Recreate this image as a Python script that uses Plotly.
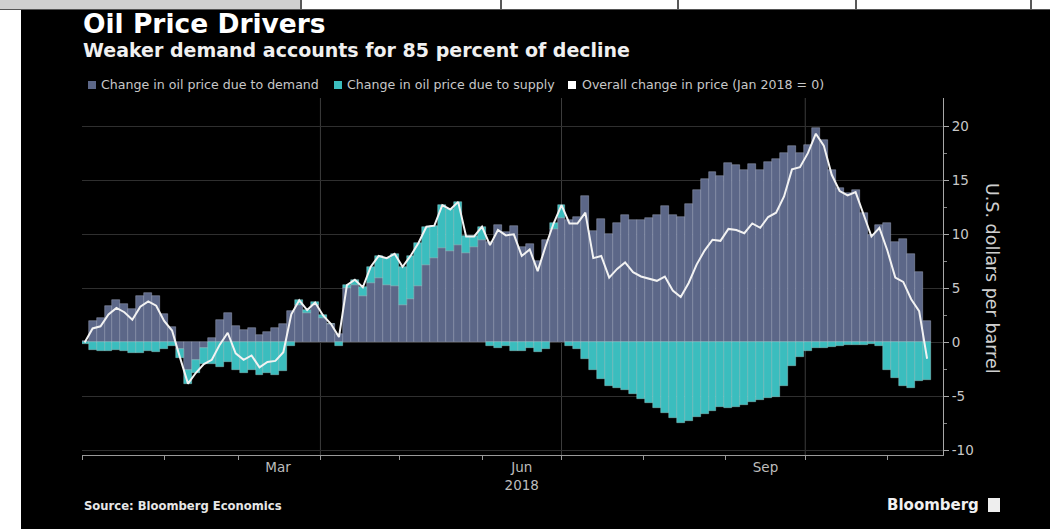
import pandas as pd
import plotly.graph_objects as go

# ---- data (US$ per barrel, change since Jan 2018), sampled every 3 days ----
dates = pd.date_range("2018-01-02", periods=107, freq="3D")

demand = [0.1, 2.0, 2.3, 3.4, 3.9, 3.6, 3.1, 4.3, 4.6, 4.3,
          2.6, 1.4, -0.6, -2.5, -1.6, -0.5, 0.4, 2.1, 2.7, 1.5,
          1.2, 1.3, 0.7, 1.0, 1.3, 1.7, 2.9, 3.5, 2.7, 3.5,
          2.3, 1.7, 0.8, 5.0, 5.3, 4.3, 5.5, 6.0, 5.3, 5.2,
          3.5, 4.0, 5.2, 7.2, 7.8, 8.7, 8.5, 9.0, 8.3, 8.8,
          9.5, 9.3, 10.9, 10.2, 10.8, 8.8, 9.1, 7.5, 9.5, 10.5,
          11.5, 11.3, 11.6, 13.5, 10.3, 11.4, 10.0, 11.0, 11.8, 11.3,
          11.3, 11.5, 11.8, 12.6, 11.8, 11.6, 12.8, 14.1, 15.1, 15.8,
          15.4, 16.6, 16.4, 15.9, 16.5, 15.9, 16.7, 17.0, 17.5, 18.2,
          17.5, 18.3, 19.8, 18.7, 15.9, 14.3, 13.8, 14.1, 12.0, 9.9,
          10.9, 11.0, 9.3, 9.6, 8.2, 6.5, 2.0]

supply = [-0.1, -0.7, -0.8, -0.8, -0.7, -0.8, -1.0, -1.0, -0.8, -0.9,
          -0.6, -0.3, -0.8, -1.3, -1.2, -1.5, -2.0, -2.3, -1.8, -2.5,
          -2.8, -2.5, -3.0, -2.8, -3.0, -2.6, -0.3, 0.4, 0.3, 0.2,
          0.2, 0.0, -0.3, 0.3, 0.5, 0.8, 1.5, 2.0, 2.5, 3.0,
          3.5, 4.0, 4.0, 3.5, 3.0, 4.0, 3.8, 4.0, 1.5, 1.0,
          1.2, -0.3, -0.5, -0.3, -0.8, -0.8, -0.5, -0.9, -0.6, 0.5,
          1.2, -0.3, -0.6, -1.5, -2.5, -3.4, -4.0, -4.2, -4.4, -4.8,
          -5.2, -5.6, -6.1, -6.5, -7.0, -7.4, -7.3, -6.9, -6.6, -6.3,
          -6.0, -6.1, -6.0, -5.8, -5.5, -5.3, -5.1, -5.0, -4.0, -2.2,
          -1.3, -0.8, -0.5, -0.5, -0.4, -0.3, -0.2, -0.2, -0.2, -0.1,
          -0.3, -2.5, -3.3, -4.0, -4.2, -3.6, -3.5]

overall = [round(d + s, 2) for d, s in zip(demand, supply)]

y_ticks = [-10, -5, 0, 5, 10, 15, 20]
y_ticktext = ["-10", "-5", "0", "5", "10", "15", "20"]
x_label_dates = ["2018-03-16", "2018-06-16", "2018-09-16"]
x_label_text = ["Mar", "Jun<br>2018", "Sep"]
month_starts = pd.date_range("2018-01-01", "2018-11-01", freq="MS")
quarter_grid = ["2018-04-01", "2018-07-01", "2018-10-01"]

series_names = ["Change in oil price due to demand",
                "Change in oil price due to supply",
                "Overall change in price (Jan 2018 = 0)"]

# ---- styling ----
DEMAND_C = "#5c6788"
SUPPLY_C = "#3bbdbe"
LINE_C = "#f2f2f2"
FONT = "DejaVu Sans, Verdana, sans-serif"

W, H = 1050, 529
L_M, R_M, T_M, B_M = 82, 107, 98, 74
PW, PH = W - L_M - R_M, H - T_M - B_M


def px(x):
    return (x - L_M) / PW


def py(y):
    return (H - B_M - y) / PH


bar_w = 3 * 24 * 3600 * 1000

fig = go.Figure()
fig.add_trace(go.Bar(x=dates, y=demand, name=series_names[0], width=bar_w,
                     marker=dict(color=DEMAND_C,
                                 line=dict(color="rgba(195,205,230,0.6)", width=0.6))))
fig.add_trace(go.Bar(x=dates, y=supply, name=series_names[1], width=bar_w,
                     marker=dict(color=SUPPLY_C,
                                 line=dict(color="rgba(195,240,240,0.55)", width=0.6))))
fig.add_trace(go.Scatter(x=dates, y=overall, name=series_names[2], mode="lines",
                         line=dict(color=LINE_C, width=2)))

shapes = []
# vertical quarter gridlines
for d in quarter_grid:
    shapes.append(dict(type="line", xref="x", yref="paper", x0=d, x1=d, y0=0, y1=1,
                       line=dict(color="#3c3c3c", width=1), layer="below"))
# legend squares
legend_sq = [(88, DEMAND_C), (334, SUPPLY_C), (568, "#ffffff")]
for x0, c in legend_sq:
    shapes.append(dict(type="rect", xref="paper", yref="paper",
                       x0=px(x0), x1=px(x0 + 8), y0=py(89), y1=py(81),
                       fillcolor=c, line=dict(width=0)))
# page frame: white left margin and top strip
shapes.append(dict(type="rect", xref="paper", yref="paper", x0=px(0), x1=px(21),
                   y0=py(H), y1=py(0), fillcolor="white", line=dict(width=0), layer="above"))
shapes.append(dict(type="rect", xref="paper", yref="paper", x0=px(0), x1=px(W),
                   y0=py(10), y1=py(0), fillcolor="white", line=dict(width=0), layer="above"))
shapes.append(dict(type="rect", xref="paper", yref="paper", x0=px(0), x1=px(300),
                   y0=py(9), y1=py(0), fillcolor="#cfcfcf", line=dict(width=0), layer="above"))
for xv in [301, 501, 678, 856, 1031]:
    shapes.append(dict(type="line", xref="paper", yref="paper", x0=px(xv), x1=px(xv),
                       y0=py(10), y1=py(0), line=dict(color="#222", width=1.5), layer="above"))
shapes.append(dict(type="line", xref="paper", yref="paper", x0=px(0), x1=px(W),
                   y0=py(9.5), y1=py(9.5), line=dict(color="#555", width=1), layer="above"))
# Bloomberg logo square
shapes.append(dict(type="rect", xref="paper", yref="paper", x0=px(988), x1=px(1000),
                   y0=py(512), y1=py(498), fillcolor="#eeeeee", line=dict(width=0)))

annotations = [
    dict(text="<b>Oil Price Drivers</b>", x=px(81), y=py(23), xref="paper", yref="paper",
         xanchor="left", yanchor="middle", showarrow=False,
         font=dict(family=FONT, size=26.5, color="white")),
    dict(text="<b>Weaker demand accounts for 85 percent of decline</b>", x=px(81), y=py(50),
         xref="paper", yref="paper", xanchor="left", yanchor="middle", showarrow=False,
         font=dict(family=FONT, size=19, color="#f0f0f0")),
    dict(text="<b>Source: Bloomberg Economics</b>", x=px(82), y=py(506), xref="paper",
         yref="paper", xanchor="left", yanchor="middle", showarrow=False,
         font=dict(family=FONT, size=11.6, color="#e6e6e6")),
    dict(text="<b>Bloomberg</b>", x=px(981), y=py(505), xref="paper", yref="paper",
         xanchor="right", yanchor="middle", showarrow=False,
         font=dict(family=FONT, size=15, color="#f0f0f0")),
    dict(text="U.S. dollars per barrel", x=px(992), y=py(278), xref="paper", yref="paper",
         xanchor="center", yanchor="middle", showarrow=False, textangle=90,
         font=dict(family=FONT, size=17.5, color="#cfcfcf")),
]
legend_txt_x = [99, 345, 580]
for name, xt in zip(series_names, legend_txt_x):
    annotations.append(dict(text=name, x=px(xt), y=py(85), xref="paper", yref="paper",
                            xanchor="left", yanchor="middle", showarrow=False,
                            font=dict(family=FONT, size=12.6, color="#c8c8c8")))

fig.update_layout(
    width=W, height=H,
    margin=dict(l=L_M, r=R_M, t=T_M, b=B_M, pad=0),
    paper_bgcolor="black", plot_bgcolor="black",
    barmode="relative", bargap=0,
    showlegend=False,
    shapes=shapes, annotations=annotations,
    font=dict(family=FONT, color="#c8c8c8"),
    xaxis=dict(type="date", range=["2018-01-01", "2018-11-22"],
               showline=True, linecolor="#9a9a9a", linewidth=1,
               showgrid=False, zeroline=False,
               tickmode="array", tickvals=x_label_dates, ticktext=x_label_text,
               ticks="", tickfont=dict(size=13.5, color="#bdbdbd"),
               minor=dict(tickmode="array", tickvals=list(month_starts), ticks="outside",
                          ticklen=4, tickcolor="#9a9a9a", showgrid=False)),
    yaxis=dict(side="right", range=[-10.4, 22.6],
               showline=True, linecolor="#a8a8a8", linewidth=1,
               showgrid=True, gridcolor="#2f2f2f", gridwidth=1, zeroline=False,
               tickmode="array", tickvals=y_ticks, ticktext=y_ticktext,
               ticks="outside", ticklen=5, tickcolor="#a8a8a8",
               tickfont=dict(size=13.5, color="#c8c8c8"),
               minor=dict(tickmode="array", tickvals=[-7.5, -2.5, 2.5, 7.5, 12.5, 17.5],
                          ticks="outside", ticklen=3, tickcolor="#888", showgrid=False)),
)

fig.write_html("out.html", config={"displayModeBar": False},
               post_script="document.body.style.margin='0px';document.body.style.padding='0px';")
